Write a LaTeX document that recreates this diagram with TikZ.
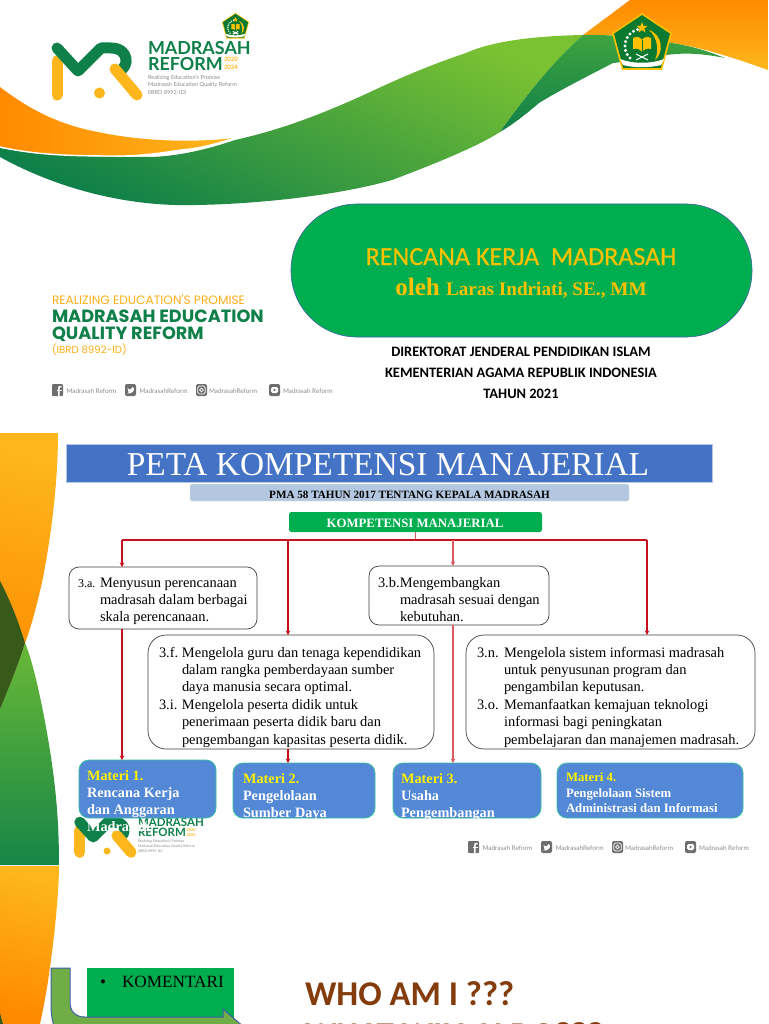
\documentclass[tikz,border=0pt]{standalone}
\usepackage{fontspec}
\setmainfont{Liberation Serif}
\newfontfamily\calibrifont{Carlito}
\newfontfamily\calibrisemi[FakeBold=0.5]{Carlito}
\newfontfamily\logofont{Poppins}
\newfontfamily\logonarrow{Lato}
\usetikzlibrary{arrows.meta,calc}
\definecolor{mrgreen}{HTML}{0F8049}
\definecolor{swlight}{HTML}{7BC232}
\definecolor{swmid}{HTML}{3FA33F}
\definecolor{mramber}{HTML}{FDB71C}
\definecolor{mrorange}{HTML}{FF8A00}
\definecolor{pillgreen}{HTML}{00AE50}
\definecolor{gold}{HTML}{FFC000}
\definecolor{matblue}{HTML}{5288D6}
\definecolor{matedge}{HTML}{35C0A0}
\definecolor{wirered}{HTML}{C8101E}
\definecolor{wirepink}{HTML}{DB5A64}
\definecolor{banner}{HTML}{4472C4}
\definecolor{subbar}{HTML}{B4C7E0}
\definecolor{socgrey}{HTML}{6E6E6E}
\definecolor{brownish}{HTML}{843C0C}
\definecolor{arrowgreen}{HTML}{70AD47}
\definecolor{arrowblue}{HTML}{3F5FA8}
\definecolor{shieldgreen}{HTML}{0B7A30}
\definecolor{overlapdark}{HTML}{37591A}
\tikzset{
  pxbox/.style 2 args={minimum width=#1pt,minimum height=#2pt,inner sep=0pt,outer sep=0pt},
  txt/.style={anchor=base west,inner sep=0pt,outer sep=0pt},
  ctxt/.style={anchor=base,inner sep=0pt,outer sep=0pt},
  compbox/.style={draw=black!75,fill=white,line width=.7pt,rounded corners=#1pt},
  compbox/.default=10,
  matbox/.style={draw=matedge,fill=matblue,line width=.8pt,rounded corners=10pt},
  wire/.style={draw=wirered,line width=1.1pt},
  wirearrow/.style={wire,-{Stealth[length=4.5pt,width=4.5pt]}},
  softwire/.style={draw=wirepink,line width=1.1pt},
  softarrow/.style={softwire,-{Stealth[length=4.5pt,width=4.5pt]}},
  mrlogo/.pic={
    \draw[mramber,line width=11pt,line cap=round] (6,18) -- (6,52);
    \draw[mrgreen,line width=11pt,line cap=round,line join=round] (6,5) -- (27,28) -- (50,5) -- (60,5) .. controls (78,5) and (79,24) .. (68,28);
    \draw[mramber,line width=11pt,line cap=round] (64,26) -- (86,52);
    \fill[mramber] (48.5,50) circle[radius=5.5];
    \node[txt,text=mrgreen,transform shape] (-a) at (97,12) {\logonarrow\fontsize{17.9}{17.9}\selectfont\bfseries MADRASAH};
    \node[txt,text=mrgreen,transform shape] (-b) at (97,28) {\logonarrow\fontsize{17.9}{17.9}\selectfont\bfseries REFORM};
    \node[txt,text=mramber,transform shape] (-c) at (173,19) {\logonarrow\fontsize{6}{6}\selectfont\bfseries 2020};
    \node[txt,text=mramber,transform shape] (-d) at (173,27) {\logonarrow\fontsize{6}{6}\selectfont\bfseries 2024};
    \node[txt,text=black!45,transform shape] (-e) at (97,36.5) {\logonarrow\fontsize{5.6}{5.6}\selectfont Realizing Education's Promise};
    \node[txt,text=black!45,transform shape] (-f) at (97,44) {\logonarrow\fontsize{5.6}{5.6}\selectfont Madrasah Education Quality Reform};
    \node[txt,text=black!45,transform shape] (-g) at (97,52) {\logonarrow\fontsize{5.6}{5.6}\selectfont (IBRD 8992-ID)};
  },
  shield/.pic={
    \fill[gold] (0,0) -- (30,20) -- (20,57) -- (-20,57) -- (-30,20) -- cycle;
    \fill[shieldgreen] (0,2) -- (28,20.7) -- (18.7,55) -- (-18.7,55) -- (-28,20.7) -- cycle;
    \fill[gold] (0,9) -- (1.5,13) -- (5.5,13) -- (2.3,15.5) -- (3.5,19.5) -- (0,17) -- (-3.5,19.5) -- (-2.3,15.5) -- (-5.5,13) -- (-1.5,13) -- cycle;
    \fill[gold] (7,17) .. controls (21,22) and (22,40) .. (13,47) .. controls (17,38) and (16,25) .. (7,17) -- cycle;
    \foreach \a in {105,120,135,150,165,180,195,210,225}
      \fill[white] ({17*cos(\a)},{33-17*sin(\a)}) circle[radius=1.7];
    \fill[gold] (-9,25) .. controls (-5,23) and (-2,24) .. (0,27) .. controls (2,24) and (5,23) .. (9,25) -- (9,36) .. controls (5,35) and (2,36) .. (0,39) .. controls (-2,36) and (-5,35) .. (-9,36) -- cycle;
    \draw[shieldgreen,line width=.6pt] (0,27) -- (0,39);
    \draw[white,line width=1.1pt] (-6,41) -- (6,47);
    \draw[white,line width=1.1pt] (6,41) -- (-6,47);
    \fill[white] (-22,46) .. controls (-10,51) and (10,51) .. (22,46) -- (19,52) .. controls (8,55) and (-8,55) .. (-19,52) -- cycle;
  },
  socials/.pic={
    \fill[socgrey,rounded corners=1pt] (0,0) rectangle (11,12);
    \draw[white,line width=1.5pt] (9.5,2.5) .. controls (7,2) and (6.8,3) .. (6.8,5) -- (6.8,12);
    \draw[white,line width=1.3pt] (4.5,6.3) -- (9.5,6.3);
    \node[txt,text=black!45] (-t1) at (14.5,9) {\logonarrow\fontsize{6.4}{6.4}\selectfont Madrasah Reform};
    \fill[socgrey,rounded corners=2pt] (73,0) rectangle (84,12);
    \fill[white] (75.5,4) .. controls (78,6) and (79,5.5) .. (79,5) .. controls (79,3) and (81.5,2.5) .. (82,4) .. controls (82.5,7) and (80,10) .. (75,9.5) .. controls (77,9) and (77,8.5) .. (76,6) -- cycle;
    \node[txt,text=black!45] (-t2) at (87.5,9) {\logonarrow\fontsize{6.4}{6.4}\selectfont MadrasahReform};
    \fill[socgrey,rounded corners=2pt] (144,0) rectangle (155,12);
    \draw[white,line width=.7pt,rounded corners=1.5pt] (145.8,2) rectangle (153.2,10);
    \draw[white,line width=.7pt] (149.5,6) circle[radius=1.9];
    \node[txt,text=black!45] (-t3) at (157,9) {\logonarrow\fontsize{6.4}{6.4}\selectfont MadrasahReform};
    \fill[socgrey,rounded corners=2pt] (217,0) rectangle (228,12);
    \fill[white,rounded corners=1.5pt] (219,3) rectangle (226,9);
    \fill[socgrey] (221.6,4.6) -- (224,6) -- (221.6,7.4) -- cycle;
    \node[txt,text=black!45] (-t4) at (231,9) {\logonarrow\fontsize{6.4}{6.4}\selectfont Madrasah Reform};
  }
}
\newcommand{\bodyfont}{\fontsize{14.45}{17.4}\selectfont\def\arraystretch{1}}
\begin{document}
\begin{tikzpicture}[x=1pt,y=-1pt]
\useasboundingbox (0,0) rectangle (768,1024);
\clip (0,0) rectangle (768,1024);
\fill[white] (0,0) rectangle (768,1024);

% --- top swoosh
\shade[left color=mrorange,right color=mramber,shading angle=0]
  (630,0) -- (768,0) -- (768,70) .. controls (740,60) and (705,48) .. (672,43) .. controls (640,38) and (610,34) .. (583,35) -- cycle;
\shade[top color=swlight,bottom color=mrgreen,shading angle=-25]
  (0,157) .. controls (60,190) and (130,207) .. (196,205)
  .. controls (260,204) and (340,195) .. (392,180) .. controls (440,162) and (480,145) .. (500,132)
  .. controls (530,90) and (555,60) .. (583,35) .. controls (530,36) and (490,42) .. (466,53)
  .. controls (430,65) and (400,78) .. (368,93) .. controls (320,115) and (280,130) .. (235,140)
  .. controls (200,152) and (170,157) .. (147,157) .. controls (90,157) and (40,155) .. (0,148) -- cycle;
\shade[top color=swmid,bottom color=mrgreen]
  (583,35) .. controls (610,34) and (640,38) .. (672,43) .. controls (690,46) and (705,50) .. (725,58)
  .. controls (705,54) and (690,53) .. (676,54) .. controls (650,56) and (625,62) .. (613,63)
  .. controls (590,75) and (560,90) .. (539,103) .. controls (525,115) and (512,125) .. (500,132)
  .. controls (530,90) and (555,60) .. (583,35) -- cycle;
\shade[left color=mrorange,right color=mramber]
  (0,87) .. controls (30,110) and (60,125) .. (98,132) .. controls (140,141) and (190,143) .. (235,138)
  .. controls (210,146) and (195,149) .. (181,150) .. controls (150,155) and (130,156) .. (123,156)
  .. controls (80,156) and (40,156) .. (0,147) -- cycle;
\draw[white,line width=1.4pt] (235,138) .. controls (210,146) and (195,149) .. (181,150) .. controls (150,155) and (130,156) .. (123,156)
  .. controls (80,156) and (40,156) .. (0,147);

\pic (logoA) at (51,43) {mrlogo};
\pic[scale=.45] (emblemA) at (235.5,13) {shield};
\pic (emblemB) at (642,13) {shield};

% --- title pill
\node[pxbox={461}{133},fill=pillgreen,draw=arrowblue,line width=.6pt,rounded corners=66pt] (pill) at (521.5,270.5) {};
\node[ctxt,text=gold] (pillA) at (521,265) {\calibrisemi\fontsize{26}{26}\selectfont RENCANA KERJA\ \ MADRASAH};
\node[ctxt,text=gold] (pillB) at (521,295) {\bfseries\fontsize{25}{25}\selectfont oleh \fontsize{19.2}{19.2}\selectfont Laras Indriati, SE., MM};
\node[ctxt] (dirA) at (521,356) {\calibrifont\bfseries\fontsize{14.4}{14.4}\selectfont DIREKTORAT JENDERAL PENDIDIKAN ISLAM};
\node[ctxt] (dirB) at (521,377) {\calibrifont\bfseries\fontsize{14.4}{14.4}\selectfont KEMENTERIAN AGAMA REPUBLIK INDONESIA};
\node[ctxt] (dirC) at (521,398) {\calibrifont\bfseries\fontsize{14.4}{14.4}\selectfont TAHUN 2021};

% --- left block
\node[txt,text=mramber!85!orange] (reA) at (52,304) {\logofont\fontsize{12.2}{12.2}\selectfont REALIZING EDUCATION'S PROMISE};
\node[txt,text=mrgreen] (reB) at (52,322) {\logofont\bfseries\fontsize{17.7}{17.7}\selectfont MADRASAH EDUCATION};
\node[txt,text=mrgreen] (reC) at (52,339) {\logofont\bfseries\fontsize{17.7}{17.7}\selectfont QUALITY REFORM};
\node[txt,text=mramber!85!orange] (reD) at (52,353) {\logofont\fontsize{10.2}{10.2}\selectfont (IBRD 8992-ID)};
\pic (socA) at (52,384) {socials};
\pic (socB) at (468,841) {socials};

% --- second slide decoration
\shade[top color=mramber,bottom color=mrorange,shading angle=-15]
  (0,433) -- (58,433) .. controls (58,480) and (52,530) .. (43,578) .. controls (38,600) and (32,625) .. (25,643)
  .. controls (18,665) and (8,690) .. (0,709) -- cycle;
\shade[top color=swlight!70!swmid,bottom color=mrgreen!85!swmid]
  (25,643) .. controls (35,665) and (50,740) .. (55,788) .. controls (58,815) and (59,840) .. (59,865) -- (0,865) -- (0,709) .. controls (8,690) and (18,665) .. (25,643) -- cycle;
\fill[overlapdark] (0,581) .. controls (10,600) and (18,620) .. (25,643) .. controls (18,665) and (8,690) .. (0,709) -- cycle;
\shade[top color=mramber,bottom color=mrorange,shading angle=-15]
  (0,866) -- (59,866) .. controls (59,885) and (56,925) .. (50,967) .. controls (47,990) and (44,1005) .. (40,1024) -- (3,1024) -- (0,1013) -- cycle;
\fill[overlapdark] (0,1013) -- (3,1024) -- (0,1024) -- cycle;

% --- headers
\node[pxbox={646}{38},fill=banner,draw=banner!40!white,line width=.5pt] (title) at (389,463) {};
\node[ctxt,text=white] (titleT) at (388,475) {\fontsize{33.4}{33.4}\selectfont PETA KOMPETENSI MANAJERIAL};
\node[pxbox={439}{17},fill=subbar,draw=swlight!30!white,line width=.4pt,rounded corners=1.5pt] (sub) at (409.5,492.5) {};
\node[ctxt] (subT) at (409.5,498) {\bfseries\fontsize{11.15}{11.15}\selectfont PMA 58 TAHUN 2017 TENTANG KEPALA MADRASAH};
\node[pxbox={253}{20},fill=pillgreen,rounded corners=2.5pt] (k) at (415.5,522) {};
\node[ctxt,text=white] (kT) at (415,527) {\bfseries\fontsize{12.8}{12.8}\selectfont KOMPETENSI MANAJERIAL};

% --- competence boxes
\node[pxbox={188}{62},compbox=10] (a) at (163,598) {};
\node[pxbox={180}{59},compbox=10] (b) at (459,595.5) {};
\node[pxbox={286}{114},compbox=18] (f) at (291,692) {};
\node[pxbox={289}{114},compbox=18] (n) at (610.5,692) {};
\node[txt] (aT) at (78,587) {\bodyfont\begin{tabular}[t]{@{}p{22pt}@{}l@{}}{\fontsize{12}{12}\selectfont 3.a.}&Menyusun perencanaan\\&madrasah dalam berbagai\\&skala perencanaan.\end{tabular}};
\node[txt] (bT) at (378,587) {\bodyfont\begin{tabular}[t]{@{}p{22pt}@{}l@{}}3.b.&Mengembangkan\\&madrasah sesuai dengan\\&kebutuhan.\end{tabular}};
\node[txt] (fT) at (159,657) {\bodyfont\begin{tabular}[t]{@{}p{23pt}@{}l@{}}3.f.&Mengelola guru dan tenaga kependidikan\\&dalam rangka pemberdayaan sumber\\&daya manusia secara optimal.\\3.i.&Mengelola peserta didik untuk\\&penerimaan peserta didik baru dan\\&pengembangan kapasitas peserta didik.\end{tabular}};
\node[txt] (nT) at (477,657) {\bodyfont\begin{tabular}[t]{@{}p{27pt}@{}l@{}}3.n.&Mengelola sistem informasi madrasah\\&untuk penyusunan program dan\\&pengambilan keputusan.\\3.o.&Memanfaatkan kemajuan teknologi\\&informasi bagi peningkatan\\&pembelajaran dan manajemen madrasah.\end{tabular}};

% --- logo under first materi, drawn before boxes
\pic[scale=.64,transform shape] (logoB) at (76,819) {mrlogo};
\node[txt,text=white] (m1over) at (87,831) {\bfseries\fontsize{14.3}{14.3}\selectfont Madrasah};

% --- materi boxes
\node[pxbox={137}{58},matbox] (m1) at (147.5,789) {};
\node[pxbox={142}{55},matbox] (m2) at (304,790.5) {};
\node[pxbox={148}{55},matbox] (m3) at (467,790.5) {};
\node[pxbox={186}{55},matbox] (m4) at (650,790.5) {};
\begin{scope}
  \clip[rounded corners=10pt] (79,760) rectangle (216,818);
  \node[txt,text=yellow] (m1a) at (87,780) {\bfseries\fontsize{14.3}{14.3}\selectfont Materi 1.};
  \node[txt,text=white] (m1b) at (87,797) {\bfseries\fontsize{14.3}{14.3}\selectfont Rencana Kerja};
  \node[txt,text=white] (m1c) at (87,814) {\bfseries\fontsize{14.3}{14.3}\selectfont dan Anggaran};
\end{scope}
\begin{scope}
  \clip[rounded corners=10pt] (233,763) rectangle (375,818);
  \node[txt,text=yellow] (m2a) at (243,783) {\bfseries\fontsize{14.3}{14.3}\selectfont Materi 2.};
  \node[txt,text=white] (m2b) at (243,800) {\bfseries\fontsize{14.3}{14.3}\selectfont Pengelolaan};
  \node[txt,text=white] (m2c) at (243,817) {\bfseries\fontsize{14.3}{14.3}\selectfont Sumber Daya};
\end{scope}
\begin{scope}
  \clip[rounded corners=10pt] (393,763) rectangle (541,818);
  \node[txt,text=yellow] (m3a) at (401,783) {\bfseries\fontsize{14.3}{14.3}\selectfont Materi 3.};
  \node[txt,text=white] (m3b) at (401,800) {\bfseries\fontsize{14.3}{14.3}\selectfont Usaha};
  \node[txt,text=white] (m3c) at (401,817) {\bfseries\fontsize{14.3}{14.3}\selectfont Pengembangan};
\end{scope}
\node[txt,text=yellow] (m4a) at (566,781) {\bfseries\fontsize{12.75}{12.75}\selectfont Materi 4.};
\node[txt,text=white] (m4b) at (566,797) {\bfseries\fontsize{12.75}{12.75}\selectfont Pengelolaan Sistem};
\node[txt,text=white] (m4c) at (566,812) {\bfseries\fontsize{12.75}{12.75}\selectfont Administrasi dan Informasi};

% --- connectors
\coordinate (bus) at (415.5,540);
\coordinate (d1) at (122,540);
\coordinate (d2) at (288,540);
\coordinate (d3) at (453,540);
\coordinate (d4) at (647,540);
\draw[softwire] (k.south) -- (bus);
\draw[wire] (d1) -- (d4);
\draw[wirearrow] (d1) -- (d1 |- a.north);
\draw[wirearrow] (d2) -- (d2 |- f.north);
\draw[softarrow] (d3) -- (d3 |- b.north);
\draw[wirearrow] (d4) -- (d4 |- n.north);
\draw[wirearrow] (d1 |- a.south) -- (d1 |- m1.north);
\draw[wirearrow] (d2 |- f.south) -- (d2 |- m2.north);
\draw[softarrow] (d3 |- b.south) -- (d3 |- m3.north);

% --- bottom
\node[pxbox={147}{52},fill=pillgreen,anchor=north west] (kom) at (87,968) {};
\node[txt] (komB) at (100,987) {\fontsize{17}{17}\selectfont\textbullet};
\node[txt] (komT) at (122,987) {\fontsize{17.2}{17.2}\selectfont KOMENTARI};
\draw[fill=arrowgreen,draw=arrowblue,line width=1pt] (51,968) -- (70,968) -- (70,1002) .. controls (70,1012) and (76,1017) .. (85,1017) -- (223,1017) -- (223,1009) -- (245,1028) -- (223,1045) -- (85,1045) .. controls (60,1045) and (51,1030) .. (51,1005) -- cycle;
\node[txt,text=brownish] (who) at (305,1005) {\calibrifont\bfseries\fontsize{34.7}{34.7}\selectfont WHO AM I ???};
\node[txt,text=brownish] (what) at (305,1046) {\calibrifont\bfseries\fontsize{34.7}{34.7}\selectfont WHAT WILL U DO???};
\end{tikzpicture}
\end{document}
